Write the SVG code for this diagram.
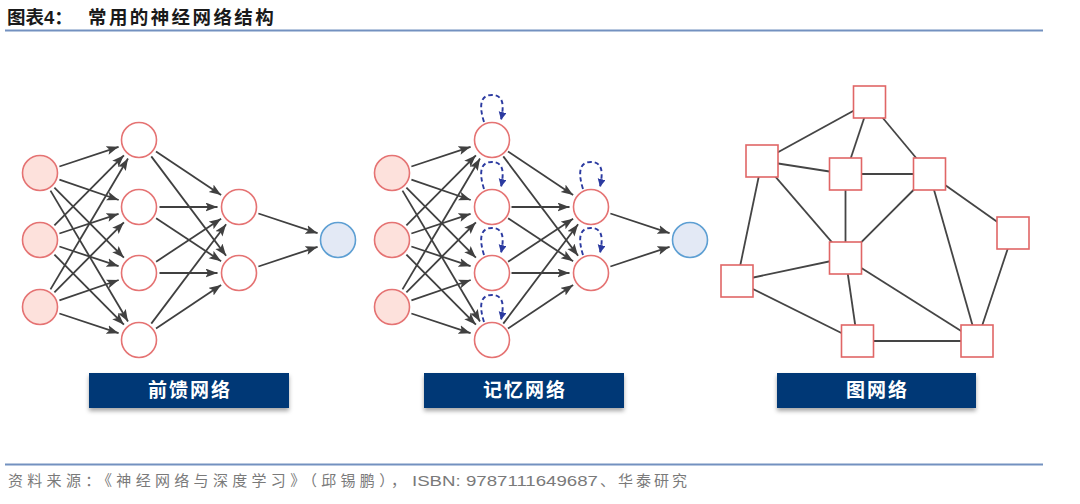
<svg xmlns="http://www.w3.org/2000/svg" xmlns:xlink="http://www.w3.org/1999/xlink" width="1080" height="504" viewBox="0 0 1080 504">
<style>
.title{font-family:"Liberation Sans","Noto Sans CJK SC",sans-serif;font-weight:bold;font-size:18.5px;fill:#1a1a1a}
.src{font-family:"Liberation Sans","Noto Sans CJK SC",sans-serif;font-size:15px;fill:#7a7a7a}
.rule{stroke:#7391c0;stroke-width:2}
.in{fill:#fde1dc;stroke:#e57373;stroke-width:1.6}
.hid{fill:#ffffff;stroke:#e57373;stroke-width:1.6}
.out{fill:#e3e9f5;stroke:#5d9fd3;stroke-width:1.6}
.e line{stroke:#404040;stroke-width:1.8;marker-end:url(#ah)}
.loop{fill:none;stroke:#2b3aa0;stroke-width:1.9;stroke-dasharray:4.5 3;marker-end:url(#lh)}
.g line{stroke:#454545;stroke-width:1.8}
.sq{fill:#ffffff;stroke:#e06666;stroke-width:1.6}
.lbl{fill:#003876;filter:url(#sh)}
.lt{font-family:"Noto Sans CJK SC",sans-serif;font-weight:bold;font-size:19px;fill:#ffffff;text-anchor:middle;letter-spacing:2px}
</style>
<defs>
<marker id="ah" markerUnits="userSpaceOnUse" markerWidth="13" markerHeight="10" refX="12" refY="4.5" orient="auto">
<path d="M0,0 L12,4.5 L0,9 L2.5,4.5 Z" fill="#404040"/>
</marker>
<marker id="lh" markerUnits="userSpaceOnUse" markerWidth="10" markerHeight="10" refX="8" refY="4" orient="auto">
<path d="M0,0 L8,4 L0,8 Z" fill="#2b3aa0"/>
</marker>
<filter id="sh" x="-10%" y="-20%" width="120%" height="160%">
<feDropShadow dx="0" dy="3" stdDeviation="2" flood-color="#000" flood-opacity="0.35"/>
</filter>
<path id="lp" class="loop" d="M-8,-18 C-13,-34 -12,-45 0,-45 C12,-45 12,-34 9,-20"/>
</defs>

<rect width="1080" height="504" fill="#ffffff"/>

<g id="header">
<text class="title" x="7" y="24">图表4：</text>
<text class="title" x="88" y="24" letter-spacing="2.4">常用的神经网络结构</text>
<line class="rule" x1="5" y1="30.5" x2="1043" y2="30.5"/>
</g>

<!-- Feedforward network -->
<g id="ff-connectors" class="e">
<line x1="59.4" y1="166.5" x2="118.6" y2="146.8"/>
<line x1="59.4" y1="179.7" x2="118.7" y2="200.0"/>
<line x1="54.4" y1="187.6" x2="123.9" y2="257.7"/>
<line x1="50.5" y1="190.6" x2="128.0" y2="321.5"/>
<line x1="54.4" y1="225.4" x2="123.9" y2="155.3"/>
<line x1="59.4" y1="233.5" x2="118.6" y2="213.8"/>
<line x1="59.4" y1="246.5" x2="118.6" y2="266.2"/>
<line x1="54.4" y1="254.6" x2="123.9" y2="324.7"/>
<line x1="50.5" y1="289.4" x2="128.0" y2="158.5"/>
<line x1="54.4" y1="292.4" x2="123.9" y2="222.3"/>
<line x1="59.4" y1="300.3" x2="118.7" y2="280.0"/>
<line x1="59.4" y1="313.5" x2="118.6" y2="333.2"/>
<line x1="156.0" y1="151.4" x2="221.1" y2="195.0"/>
<line x1="151.3" y1="156.4" x2="226.1" y2="255.8"/>
<line x1="159.5" y1="207" x2="217.5" y2="207"/>
<line x1="156.1" y1="218.3" x2="221.1" y2="261.2"/>
<line x1="156.1" y1="261.7" x2="221.1" y2="218.8"/>
<line x1="159.5" y1="273" x2="217.5" y2="273"/>
<line x1="151.3" y1="323.6" x2="226.1" y2="224.2"/>
<line x1="156.0" y1="328.6" x2="221.1" y2="285.0"/>
<line x1="258.4" y1="213.5" x2="317.6" y2="233.2"/>
<line x1="258.4" y1="266.5" x2="317.6" y2="246.8"/>
</g>
<g id="ff-i1"><circle class="in" cx="40" cy="173" r="17.5"/></g>
<g id="ff-i2"><circle class="in" cx="40" cy="240" r="17.5"/></g>
<g id="ff-i3"><circle class="in" cx="40" cy="307" r="17.5"/></g>
<g id="ff-h1"><circle class="hid" cx="139" cy="140" r="17.5"/></g>
<g id="ff-h2"><circle class="hid" cx="139" cy="207" r="17.5"/></g>
<g id="ff-h3"><circle class="hid" cx="139" cy="273" r="17.5"/></g>
<g id="ff-h4"><circle class="hid" cx="139" cy="340" r="17.5"/></g>
<g id="ff-k1"><circle class="hid" cx="239" cy="207" r="17.5"/></g>
<g id="ff-k2"><circle class="hid" cx="239" cy="273" r="17.5"/></g>
<g id="ff-o"><circle class="out" cx="338" cy="240" r="17.5"/></g>

<!-- Memory network -->
<g transform="translate(352,0)">
<g id="mem-connectors" class="e">
<line x1="59.4" y1="166.5" x2="118.6" y2="146.8"/>
<line x1="59.4" y1="179.7" x2="118.7" y2="200.0"/>
<line x1="54.4" y1="187.6" x2="123.9" y2="257.7"/>
<line x1="50.5" y1="190.6" x2="128.0" y2="321.5"/>
<line x1="54.4" y1="225.4" x2="123.9" y2="155.3"/>
<line x1="59.4" y1="233.5" x2="118.6" y2="213.8"/>
<line x1="59.4" y1="246.5" x2="118.6" y2="266.2"/>
<line x1="54.4" y1="254.6" x2="123.9" y2="324.7"/>
<line x1="50.5" y1="289.4" x2="128.0" y2="158.5"/>
<line x1="54.4" y1="292.4" x2="123.9" y2="222.3"/>
<line x1="59.4" y1="300.3" x2="118.7" y2="280.0"/>
<line x1="59.4" y1="313.5" x2="118.6" y2="333.2"/>
<line x1="156.0" y1="151.4" x2="221.1" y2="195.0"/>
<line x1="151.3" y1="156.4" x2="226.1" y2="255.8"/>
<line x1="159.5" y1="207" x2="217.5" y2="207"/>
<line x1="156.1" y1="218.3" x2="221.1" y2="261.2"/>
<line x1="156.1" y1="261.7" x2="221.1" y2="218.8"/>
<line x1="159.5" y1="273" x2="217.5" y2="273"/>
<line x1="151.3" y1="323.6" x2="226.1" y2="224.2"/>
<line x1="156.0" y1="328.6" x2="221.1" y2="285.0"/>
<line x1="258.4" y1="213.5" x2="317.6" y2="233.2"/>
<line x1="258.4" y1="266.5" x2="317.6" y2="246.8"/>
</g>
<g id="mem-loops">
<use xlink:href="#lp" transform="translate(140,140)"/>
<use xlink:href="#lp" transform="translate(140,207)"/>
<use xlink:href="#lp" transform="translate(140,273)"/>
<use xlink:href="#lp" transform="translate(140,340)"/>
<use xlink:href="#lp" transform="translate(239,207)"/>
<use xlink:href="#lp" transform="translate(239,273)"/>
</g>
<g id="mem-i1"><circle class="in" cx="40" cy="173" r="17.5"/></g>
<g id="mem-i2"><circle class="in" cx="40" cy="240" r="17.5"/></g>
<g id="mem-i3"><circle class="in" cx="40" cy="307" r="17.5"/></g>
<g id="mem-h1"><circle class="hid" cx="140" cy="140" r="17.5"/></g>
<g id="mem-h2"><circle class="hid" cx="140" cy="207" r="17.5"/></g>
<g id="mem-h3"><circle class="hid" cx="140" cy="273" r="17.5"/></g>
<g id="mem-h4"><circle class="hid" cx="140" cy="340" r="17.5"/></g>
<g id="mem-k1"><circle class="hid" cx="239" cy="207" r="17.5"/></g>
<g id="mem-k2"><circle class="hid" cx="239" cy="273" r="17.5"/></g>
<g id="mem-o"><circle class="out" cx="338" cy="240" r="17.5"/></g>
</g>

<!-- Graph network -->
<g id="graph-connectors" class="g">
<line x1="869.5" y1="102" x2="762" y2="161"/>
<line x1="869.5" y1="102" x2="845.5" y2="174"/>
<line x1="869.5" y1="102" x2="929.5" y2="174"/>
<line x1="762" y1="161" x2="845.5" y2="174"/>
<line x1="845.5" y1="174" x2="929.5" y2="174"/>
<line x1="762" y1="161" x2="845.5" y2="258"/>
<line x1="762" y1="161" x2="737" y2="281"/>
<line x1="845.5" y1="174" x2="845.5" y2="258"/>
<line x1="929.5" y1="174" x2="845.5" y2="258"/>
<line x1="929.5" y1="174" x2="1013" y2="233"/>
<line x1="929.5" y1="174" x2="977" y2="341"/>
<line x1="1013" y1="233" x2="977" y2="341"/>
<line x1="845.5" y1="258" x2="737" y2="281"/>
<line x1="845.5" y1="258" x2="857.5" y2="341"/>
<line x1="845.5" y1="258" x2="977" y2="341"/>
<line x1="737" y1="281" x2="857.5" y2="341"/>
<line x1="857.5" y1="341" x2="977" y2="341"/>
</g>
<g id="gn-top"><rect class="sq" x="853.5" y="86" width="32" height="32"/></g>
<g id="gn-lu"><rect class="sq" x="746" y="145" width="32" height="32"/></g>
<g id="gn-mid"><rect class="sq" x="829.5" y="158" width="32" height="32"/></g>
<g id="gn-ru"><rect class="sq" x="913.5" y="158" width="32" height="32"/></g>
<g id="gn-fr"><rect class="sq" x="997" y="217" width="32" height="32"/></g>
<g id="gn-ctr"><rect class="sq" x="829.5" y="242" width="32" height="32"/></g>
<g id="gn-ll"><rect class="sq" x="721" y="265" width="32" height="32"/></g>
<g id="gn-bm"><rect class="sq" x="841.5" y="325" width="32" height="32"/></g>
<g id="gn-br"><rect class="sq" x="961" y="325" width="32" height="32"/></g>

<!-- Labels -->
<g id="label-ff"><rect class="lbl" x="89" y="373" width="200" height="35"/><text class="lt" x="190" y="397">前馈网络</text></g>
<g id="label-mem"><rect class="lbl" x="424" y="373" width="200" height="35"/><text class="lt" x="525" y="397">记忆网络</text></g>
<g id="label-graph"><rect class="lbl" x="777" y="373" width="199" height="35"/><text class="lt" x="877.5" y="397">图网络</text></g>

<g id="footer">
<line class="rule" x1="5" y1="464.5" x2="1043" y2="464.5"/>
<text class="src" x="8" y="486" textLength="398" lengthAdjust="spacing">资料来源：《神经网络与深度学习》（邱锡鹏），</text>
<text class="src" x="412" y="486" textLength="186" lengthAdjust="spacingAndGlyphs">ISBN: 9787111649687</text>
<text class="src" x="600" y="486" textLength="87" lengthAdjust="spacing">、华泰研究</text>
</g>
</svg>
